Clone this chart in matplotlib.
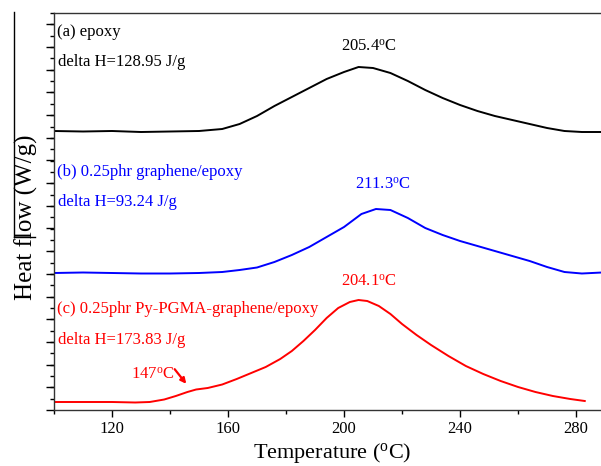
import matplotlib
matplotlib.use("Agg")
import matplotlib.pyplot as plt
from matplotlib.lines import Line2D
from matplotlib.ticker import MultipleLocator
import numpy as np

plt.rcParams["font.family"] = ["Liberation Serif", "DejaVu Serif"]
plt.rcParams["mathtext.fontset"] = "custom"
plt.rcParams["mathtext.rm"] = "Liberation Serif"
plt.rcParams["mathtext.it"] = "Liberation Serif:italic"

# DSC curves, heat flow in arbitrary (offset) units
temp_a = [100, 110, 120, 130, 140, 150, 158, 164, 170, 176, 182, 188, 194, 200, 205,
          210, 216, 222, 228, 234, 240, 246, 252, 258, 264, 270, 276, 282, 289]
flow_a = [279, 278.5, 279, 278, 278.5, 279, 281, 286, 294, 304, 313, 322, 331, 338, 343,
          342, 337, 329, 320, 312, 305, 299, 294, 290, 286, 282, 279, 278, 278]

temp_b = [100, 110, 120, 130, 140, 150, 158, 164, 170, 176, 182, 188, 194, 200, 206,
          211, 216, 222, 228, 234, 240, 246, 252, 258, 264, 270, 276, 282, 289]
flow_b = [137, 137.5, 137, 136.5, 136.5, 137, 138, 140, 142.5, 148, 155, 163, 173, 183, 196,
          201, 200, 192, 182, 175, 169, 164, 159, 154, 149, 143, 138, 136.5, 137.5]

temp_c = [100, 110, 120, 128, 133, 138, 142, 146, 149, 153, 158, 163, 168, 173, 178, 182,
          186, 190, 194, 198, 202, 205, 208, 212, 216, 220, 225, 230, 236, 242, 248, 254,
          260, 266, 272, 278, 283]
flow_c = [8, 8, 8, 7.5, 8, 10.5, 14, 18, 20.5, 22, 25.5, 31, 37, 43, 51, 59,
          69, 80, 92, 102, 108, 110, 109, 104, 96, 86, 75, 65, 54, 44, 36, 29,
          23, 18, 14, 11, 9]

labels = ["(a) epoxy", "(b) 0.25phr graphene/epoxy", "(c) 0.25phr Py-PGMA-graphene/epoxy"]
enthalpy = ["delta H=128.95 J/g", "delta H=93.24 J/g", "delta H=173.83 J/g"]
peaks = [r"205.4$^{\mathrm{o}}$C", r"211.3$^{\mathrm{o}}$C", r"204.1$^{\mathrm{o}}$C"]
colors = ["black", "blue", "red"]

fig = plt.figure(figsize=(6.01, 4.66), dpi=100)
ax = fig.add_axes([54 / 601, 56 / 466, 547 / 601, 397 / 466])

ax.plot(temp_a, flow_a, color=colors[0], lw=1.4)
ax.plot(temp_b, flow_b, color=colors[1], lw=1.4)
ax.plot(temp_c, flow_c, color=colors[2], lw=1.4)

ax.set_xlim(100, 288.6)
ax.set_ylim(0, 397)
ax.xaxis.set_major_locator(MultipleLocator(40))
ax.xaxis.set_minor_locator(MultipleLocator(20))
ax.yaxis.set_major_locator(MultipleLocator(22.7))
ax.yaxis.set_minor_locator(MultipleLocator(11.34))
ax.tick_params(axis="x", which="major", direction="out", length=5, width=1, labelsize=12, pad=3)
ax.tick_params(axis="x", which="minor", direction="out", length=3, width=1)
ax.tick_params(axis="y", which="major", direction="out", length=6, width=1, labelleft=False)
ax.tick_params(axis="y", which="minor", direction="out", length=3, width=1)
ax.spines["right"].set_visible(False)
for side in ["left", "bottom", "top"]:
    ax.spines[side].set_linewidth(1.0)
    ax.spines[side].set_color("#333333")

ax.set_xlabel(r"Temperature ($^{\mathrm{o}}$C)", fontsize=16)
ax.xaxis.set_label_coords(0.508, -0.077)
ax.set_ylabel("Heat flow (W/g)", fontsize=18)
ax.yaxis.set_label_coords(-0.029, 0.486)

fs = 12
ax.text(101.0, 378, labels[0], color=colors[0], fontsize=fs, va="center")
ax.text(101.4, 348, enthalpy[0], color=colors[0], fontsize=fs, va="center")
ax.text(208.6, 363, peaks[0], color=colors[0], fontsize=fs, va="center", ha="center")

ax.text(101.0, 238, labels[1], color=colors[1], fontsize=fs, va="center")
ax.text(101.4, 208, enthalpy[1], color=colors[1], fontsize=fs, va="center")
ax.text(213.4, 225, peaks[1], color=colors[1], fontsize=fs, va="center", ha="center")

ax.text(101.0, 101, labels[2], color=colors[2], fontsize=fs, va="center")
ax.text(101.4, 70, enthalpy[2], color=colors[2], fontsize=fs, va="center")
ax.text(208.6, 128, peaks[2], color=colors[2], fontsize=fs, va="center", ha="center")

ax.text(134.1, 35, r"147$^{\mathrm{o}}$C", color=colors[2], fontsize=fs, va="center", ha="center")
ax.annotate("", xy=(146.2, 24), xytext=(141.0, 43),
            arrowprops=dict(arrowstyle="-|>", color=colors[2], lw=1.6, mutation_scale=8))

# stray frame line at the left edge of the scanned figure
fig.add_artist(Line2D([14 / 601, 14 / 601], [1 - 12 / 466, 1 - 237 / 466],
                      transform=fig.transFigure, color="black", lw=1.0))
fig.add_artist(Line2D([14 / 601, 35 / 601], [1 - 237 / 466, 1 - 237 / 466],
                      transform=fig.transFigure, color="black", lw=1.0))

fig.savefig("out.png", dpi=100)
